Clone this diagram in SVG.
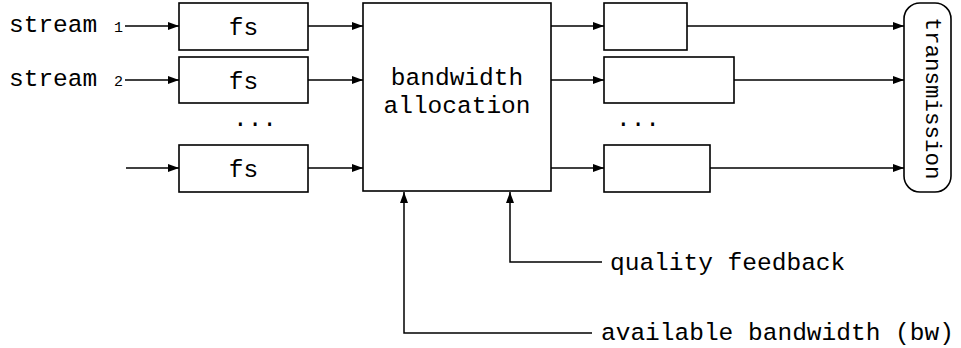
<svg xmlns="http://www.w3.org/2000/svg" width="961" height="348" viewBox="0 0 961 348">
  <defs>
    <marker id="ah" viewBox="0 0 11 8" refX="11" refY="4" markerWidth="11" markerHeight="8" markerUnits="userSpaceOnUse" orient="auto">
      <path d="M0,0 L11,4 L0,8 z" fill="#000"/>
    </marker>
  </defs>
  <style>
    .box { fill: #fff; stroke: #000; stroke-width: 1.6; }
    .wire { fill: none; stroke: #000; stroke-width: 1.5; }
    .arr { marker-end: url(#ah); }
    text { font-family: "Liberation Mono", "Courier New", monospace; font-size: 24.5px; fill: #000; }
    .sub { font-size: 15px; }
    .mid { text-anchor: middle; }
    .vert { font-size: 22.5px; }
  </style>

  <rect width="961" height="348" fill="#fff"/>

  <!-- connectors -->
  <g id="connectors">
    <path class="wire arr" d="M125,26 H179"/>
    <path class="wire arr" d="M125,80 H179"/>
    <path class="wire arr" d="M126,168 H179"/>
    <path class="wire arr" d="M308,26 H363"/>
    <path class="wire arr" d="M308,80 H363"/>
    <path class="wire arr" d="M308,168 H363"/>
    <path class="wire arr" d="M551,26 H604"/>
    <path class="wire arr" d="M551,80 H604"/>
    <path class="wire arr" d="M551,168 H604"/>
    <path class="wire arr" d="M687,26 H904"/>
    <path class="wire arr" d="M734,80 H904"/>
    <path class="wire arr" d="M710,168 H904"/>
    <path class="wire arr" d="M602,262 H510 V192"/>
    <path class="wire arr" d="M592,333 H404 V192"/>
  </g>

  <!-- input labels -->
  <g id="stream1">
    <text x="9" y="32">stream</text>
    <text class="sub" x="114" y="32">1</text>
  </g>
  <g id="stream2">
    <text x="9" y="86">stream</text>
    <text class="sub" x="114" y="86">2</text>
  </g>

  <!-- fs stages -->
  <g id="fs1">
    <rect class="box" x="179" y="3" width="129" height="47"/>
    <text class="mid" x="243.5" y="35">fs</text>
  </g>
  <g id="fs2">
    <rect class="box" x="179" y="57" width="129" height="46"/>
    <text class="mid" x="243.5" y="89">fs</text>
  </g>
  <g id="fs-dots">
    <text class="mid" x="255" y="126">...</text>
  </g>
  <g id="fs3">
    <rect class="box" x="179" y="145" width="129" height="47"/>
    <text class="mid" x="243.5" y="177">fs</text>
  </g>

  <!-- allocator -->
  <g id="allocation">
    <rect class="box" x="363" y="3" width="188" height="188"/>
    <text class="mid" x="457" y="85">bandwidth<tspan x="457" dy="28">allocation</tspan></text>
  </g>

  <!-- output buffers -->
  <g id="out1">
    <rect class="box" x="604" y="3" width="83" height="47"/>
  </g>
  <g id="out2">
    <rect class="box" x="604" y="57" width="130" height="46"/>
  </g>
  <g id="out-dots">
    <text class="mid" x="638" y="126">...</text>
  </g>
  <g id="out3">
    <rect class="box" x="604" y="145" width="106" height="47"/>
  </g>

  <!-- transmission -->
  <g id="transmission">
    <rect class="box" x="904" y="3" width="47" height="189" rx="16" ry="16"/>
    <text class="mid vert" transform="translate(926,98.5) rotate(90)" x="0" y="0">transmission</text>
  </g>

  <!-- control inputs -->
  <g id="quality">
    <text x="610" y="270">quality feedback</text>
  </g>
  <g id="available">
    <text x="601" y="340">available bandwidth (bw)</text>
  </g>
</svg>
